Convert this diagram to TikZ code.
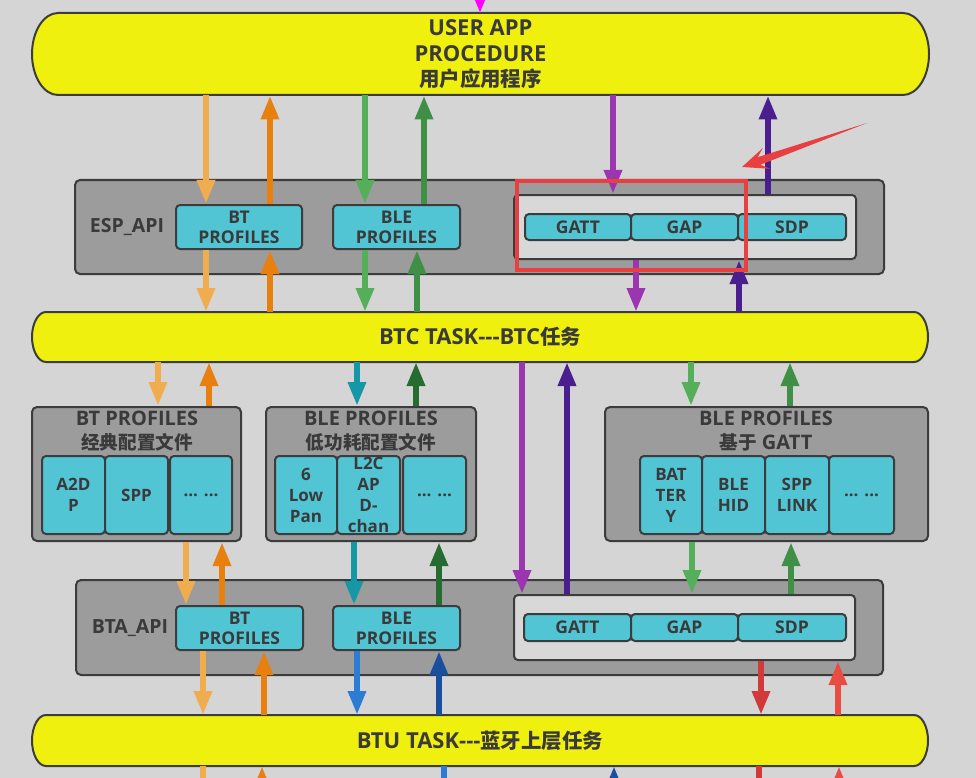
\documentclass[tikz,border=0pt]{standalone}
\usepackage{fontspec}
\setmainfont{Open Sans}
\newfontfamily\cjk{Noto Sans CJK SC}[Scale=0.93]
\usetikzlibrary{arrows.meta}
\definecolor{bg}{HTML}{D5D5D5}
\definecolor{yel}{HTML}{F0F00F}
\definecolor{boxgray}{HTML}{9C9C9C}
\definecolor{light}{HTML}{D8D8D8}
\definecolor{cyanbox}{HTML}{52C5D5}
\definecolor{edge}{HTML}{3C3C3C}
\definecolor{txt}{HTML}{3A3A3A}
\definecolor{lo}{HTML}{F0AD50}
\definecolor{orng}{HTML}{E8800F}
\definecolor{grn}{HTML}{55AF5A}
\definecolor{dgrn}{HTML}{3F8F47}
\definecolor{purp}{HTML}{9B35B0}
\definecolor{dpurp}{HTML}{4A1E8E}
\definecolor{teal}{HTML}{1597A5}
\definecolor{forest}{HTML}{266B2F}
\definecolor{blu}{HTML}{2B7CD2}
\definecolor{navy}{HTML}{1A4E9F}
\definecolor{rd}{HTML}{D03A3A}
\definecolor{rdl}{HTML}{E84C42}
\definecolor{mag}{HTML}{FF00FF}
\definecolor{hl}{HTML}{E84040}
\begin{document}
\begin{tikzpicture}[x=1pt,y=-1pt,
  taskshape/.style={fill=yel,draw=edge,line width=2pt},
  tasktext/.style={inner sep=0pt,outer sep=0pt,text=txt,align=center,font=\bfseries\fontsize{22}{25.5}\selectfont},
  graybox/.style={fill=boxgray,draw=edge,line width=2pt,rounded corners=5pt,inner sep=0pt},
  lightbox/.style={fill=light,draw=edge,line width=2pt,rounded corners=4pt,inner sep=0pt},
  cyanb/.style={fill=cyanbox,draw=edge,line width=2pt,rounded corners=4pt,inner sep=0pt,text=txt,align=center,font=\bfseries\fontsize{17.5}{20}\selectfont},
  inb/.style={cyanb,minimum height=78pt,font=\bfseries\fontsize{17}{21}\selectfont},
  lbl/.style={inner sep=0pt,text=txt,font=\bfseries\fontsize{19.5}{22}\selectfont},
  ttl/.style={inner sep=0pt,text=txt,align=center,font=\bfseries\fontsize{20}{24}\selectfont},
  arr/.style={line width=6pt,draw=#1,-{Triangle[length=24pt,width=17pt]}}
]
\useasboundingbox (0,0) rectangle (976,778);
\fill[bg] (0,0) rectangle (976,778);
\clip (0,0) rectangle (976,778);

% task bands
\filldraw[taskshape] (58,13) -- (903,13) arc[start angle=-90,end angle=90,x radius=26,y radius=41] -- (58,95) arc[start angle=90,end angle=270,x radius=26,y radius=41] -- cycle;
\node[tasktext,minimum width=897pt,minimum height=82pt] (user) at (480.5,54.5) {USER APP\\PROCEDURE\\{\cjk 用户应用程序}};

\filldraw[taskshape] (46,312) -- (914,312) arc[start angle=-90,end angle=90,x radius=14,y radius=25] -- (46,362) arc[start angle=90,end angle=270,x radius=14,y radius=25] -- cycle;
\node[tasktext,minimum width=896pt,minimum height=50pt] (btc) at (480,337) {BTC TASK-{}-{}-BTC{\cjk 任务}};

\filldraw[taskshape] (46,715) -- (914,715) arc[start angle=-90,end angle=90,x radius=14,y radius=25.5] -- (46,766) arc[start angle=90,end angle=270,x radius=14,y radius=25.5] -- cycle;
\node[tasktext,minimum width=896pt,minimum height=51pt] (btu) at (480,740.5) {BTU TASK-{}-{}-{\cjk 蓝牙上层任务}};

% ESP_API
\node[graybox,minimum width=809pt,minimum height=94pt] (esp) at (479.5,227) {};
\node[lbl] (esplbl) at (127,227) {ESP\_API};
\node[cyanb,minimum width=126pt,minimum height=44pt] (espbt) at (239,227) {BT\\PROFILES};
\node[cyanb,minimum width=127pt,minimum height=44pt] (espble) at (396.5,227) {BLE\\PROFILES};
\node[lightbox,minimum width=342pt,minimum height=64pt] (espin) at (685,227) {};
\node[cyanb,minimum width=106pt,minimum height=26pt] (espgatt) at (578,227) {GATT};
\node[cyanb,minimum width=107pt,minimum height=26pt] (espgap) at (684.5,227) {GAP};
\node[cyanb,minimum width=108pt,minimum height=26pt] (espsdp) at (792,227) {SDP};

% middle row
\node[graybox,minimum width=209pt,minimum height=134pt] (bt) at (136.5,474) {};
\node[ttl] (bttl) at (137,431) {BT PROFILES\\{\cjk 经典配置文件}};
\node[inb,minimum width=63pt] (a2dp) at (73.5,495) {A2D\\P};
\node[inb,minimum width=63pt] (spp) at (136.5,495) {SPP};
\node[inb,minimum width=62pt] (btdots) at (201,495) {... ...};

\node[graybox,minimum width=210pt,minimum height=134pt] (ble) at (371,474) {};
\node[ttl] (blettl) at (371,431) {BLE PROFILES\\{\cjk 低功耗配置文件}};
\node[inb,minimum width=62pt] (lowpan) at (306,495) {6\\Low\\Pan};
\node[inb,minimum width=63pt] (l2cap) at (368.5,495) {L2C\\AP\\D-\\chan};
\node[inb,minimum width=63pt] (bledots) at (434.5,495) {... ...};

\node[graybox,minimum width=323pt,minimum height=134pt] (gattp) at (766.5,474) {};
\node[ttl] (gattttl) at (766,431) {BLE PROFILES\\{\cjk 基于} GATT};
\node[inb,minimum width=62pt] (battery) at (671,495) {BAT\\TER\\Y};
\node[inb,minimum width=63pt] (blehid) at (733.5,495) {BLE\\HID};
\node[inb,minimum width=64pt] (spplink) at (797,495) {SPP\\LINK};
\node[inb,minimum width=65pt] (gattdots) at (861.5,495) {... ...};

% BTA_API
\node[graybox,minimum width=807pt,minimum height=95pt] (bta) at (479.5,627.5) {};
\node[lbl] (btalbl) at (130,628) {BTA\_API};
\node[cyanb,minimum width=127pt,minimum height=44pt] (btabt) at (239.5,628) {BT\\PROFILES};
\node[cyanb,minimum width=127pt,minimum height=44pt] (btable) at (396.5,628) {BLE\\PROFILES};
\node[lightbox,minimum width=341pt,minimum height=65pt] (btain) at (684.5,627.5) {};
\node[cyanb,minimum width=107pt,minimum height=27pt] (btagatt) at (577.5,627.5) {GATT};
\node[cyanb,minimum width=107pt,minimum height=27pt] (btagap) at (684.5,627.5) {GAP};
\node[cyanb,minimum width=108pt,minimum height=27pt] (btasdp) at (792,627.5) {SDP};

% free ends
\coordinate (mtop) at (480,-20);
\coordinate (s1) at (203,810);
\coordinate (s2) at (262,810);
\coordinate (s3) at (444,810);
\coordinate (s4) at (614,810);
\coordinate (s5) at (759,810);
\coordinate (s6) at (839,810);

% arrows: USER <-> ESP
\draw[arr=mag] (mtop) -- (480,0 |- user.north);
\draw[arr=lo] (206,0 |- user.south) -- (206,0 |- espbt.north);
\draw[arr=orng] (270,0 |- espbt.north) -- (270,0 |- user.south);
\draw[arr=grn] (365,0 |- user.south) -- (365,0 |- espble.north);
\draw[arr=dgrn] (424,0 |- espble.north) -- (424,0 |- user.south);
\draw[arr=purp] (613,0 |- user.south) -- (613,0 |- espin.north);
\draw[arr=dpurp] (768,0 |- espin.north) -- (768,0 |- user.south);
% ESP <-> BTC
\draw[arr=lo] (206,0 |- espbt.south) -- (206,0 |- btc.north);
\draw[arr=orng] (270,0 |- btc.north) -- (270,0 |- espbt.south);
\draw[arr=grn] (365,0 |- espble.south) -- (365,0 |- btc.north);
\draw[arr=dgrn] (417,0 |- btc.north) -- (417,0 |- espble.south);
\draw[arr=purp] (636,0 |- espin.south) -- (636,0 |- btc.north);
\draw[arr=dpurp] (739,0 |- btc.north) -- (739,0 |- espin.south);
% BTC <-> middle
\draw[arr=lo] (158,0 |- btc.south) -- (158,0 |- bt.north);
\draw[arr=orng] (209,0 |- bt.north) -- (209,0 |- btc.south);
\draw[arr=teal] (357,0 |- btc.south) -- (357,0 |- ble.north);
\draw[arr=forest] (416,0 |- ble.north) -- (416,0 |- btc.south);
\draw[arr=purp] (522,0 |- btc.south) -- (522,0 |- btain.north);
\draw[arr=dpurp] (567,0 |- btain.north) -- (567,0 |- btc.south);
\draw[arr=grn] (691,0 |- btc.south) -- (691,0 |- gattp.north);
\draw[arr=dgrn] (790,0 |- gattp.north) -- (790,0 |- btc.south);
% middle <-> BTA
\draw[arr=lo] (186,0 |- bt.south) -- (186,0 |- btabt.north);
\draw[arr=orng] (222,0 |- btabt.north) -- (222,0 |- bt.south);
\draw[arr=teal] (354,0 |- ble.south) -- (354,0 |- btable.north);
\draw[arr=forest] (439,0 |- btable.north) -- (439,0 |- ble.south);
\draw[arr=grn] (692,0 |- gattp.south) -- (692,0 |- btain.north);
\draw[arr=dgrn] (791,0 |- btain.north) -- (791,0 |- gattp.south);
% BTA <-> BTU
\draw[arr=lo] (203,0 |- btabt.south) -- (203,0 |- btu.north);
\draw[arr=orng] (264,0 |- btu.north) -- (264,0 |- btabt.south);
\draw[arr=blu] (357,0 |- btable.south) -- (357,0 |- btu.north);
\draw[arr=navy] (439,0 |- btu.north) -- (439,0 |- btable.south);
\draw[arr=rd] (761,0 |- btain.south) -- (761,0 |- btu.north);
\draw[arr=rdl] (838,0 |- btu.north) -- (838,0 |- btain.south);
% below BTU
\draw[arr=lo] (203,0 |- btu.south) -- (s1);
\draw[arr=orng] (s2) -- (262,0 |- btu.south);
\draw[arr=blu] (444,0 |- btu.south) -- (s3);
\draw[arr=navy] (s4) -- (614,0 |- btu.south);
\draw[arr=rd] (759,0 |- btu.south) -- (s5);
\draw[arr=rdl] (s6) -- (839,0 |- btu.south);

% highlight
\draw[hl,line width=4pt] (517,181) rectangle (746,270);
\coordinate (ptail) at (867,123);
\coordinate (ptip) at (742,167);
\fill[hl] (ptail) -- (757.7,157.2) -- (762.8,148.0) -- (ptip) -- (770.2,168.8) -- (760.3,164.8) -- cycle;
\end{tikzpicture}
\end{document}
